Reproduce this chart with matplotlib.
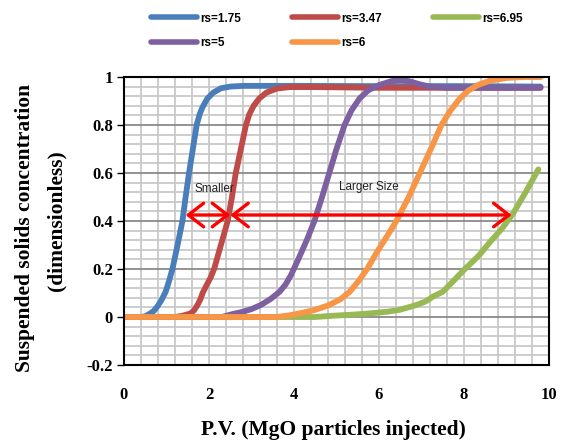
import numpy as np
import matplotlib
matplotlib.use("Agg")
import matplotlib.pyplot as plt
from matplotlib.ticker import MultipleLocator, FixedLocator

# readings from the picture (P.V., concentration)
blue_x = [0, 0.4, 0.5, 0.59, 0.7, 0.79, 0.88, 0.98, 1.06, 1.14, 1.26, 1.375, 1.45, 1.53,
          1.62, 1.71, 1.78, 1.85, 1.96, 2.1, 2.28, 2.5, 2.8, 4, 6, 8, 9.8]
blue_y = [0, 0, 0.003, 0.012, 0.025, 0.045, 0.07, 0.105, 0.15, 0.2, 0.3, 0.4, 0.5, 0.6,
          0.7, 0.8, 0.845, 0.875, 0.91, 0.935, 0.953, 0.96, 0.963, 0.963, 0.962, 0.962, 0.96]

red_x = [0, 1.2, 1.37, 1.57, 1.65, 1.73, 1.8, 1.85, 1.95, 2.04, 2.12, 2.28, 2.44, 2.54,
         2.63, 2.75, 2.87, 2.95, 3.05, 3.18, 3.35, 3.6, 3.9, 4.5, 6, 8, 9.8]
red_y = [0, 0, 0.005, 0.015, 0.028, 0.05, 0.075, 0.1, 0.135, 0.165, 0.2, 0.3, 0.4, 0.5,
         0.6, 0.7, 0.8, 0.845, 0.88, 0.91, 0.935, 0.952, 0.958, 0.958, 0.955, 0.955, 0.955]

green_x = [0, 4.5, 4.9, 5.4, 5.78, 6.2, 6.49, 6.88, 7.1, 7.27, 7.5, 7.75, 8.02, 8.2,
           8.37, 8.6, 8.9, 9.15, 9.45, 9.75]
green_y = [0, 0, 0.005, 0.01, 0.015, 0.022, 0.03, 0.05, 0.065, 0.085, 0.105, 0.15, 0.2, 0.23,
           0.26, 0.31, 0.37, 0.43, 0.52, 0.615]

purple_x = [0, 2.3, 2.55, 2.8, 3.0, 3.22, 3.45, 3.66, 3.8, 3.93, 4.1, 4.3, 4.48, 4.66,
            4.83, 5.0, 5.19, 5.35, 5.54, 5.75, 6.01, 6.3, 6.5, 6.7, 6.95, 7.19, 7.6, 8.5, 9.8]
purple_y = [0, 0, 0.012, 0.022, 0.033, 0.05, 0.075, 0.105, 0.135, 0.175, 0.24, 0.32, 0.4, 0.5,
            0.6, 0.7, 0.8, 0.86, 0.91, 0.945, 0.967, 0.983, 0.987, 0.983, 0.97, 0.96, 0.955, 0.955, 0.955]

orange_x = [0, 3.6, 3.9, 4.13, 4.5, 4.83, 5.1, 5.31, 5.52, 5.72, 5.95, 6.2, 6.41, 6.7,
            6.96, 7.22, 7.47, 7.68, 7.9, 8.1, 8.33, 8.6, 9.0, 9.4, 9.8]
orange_y = [0, 0, 0.007, 0.015, 0.03, 0.05, 0.075, 0.105, 0.15, 0.2, 0.27, 0.34, 0.4, 0.5,
            0.6, 0.7, 0.8, 0.86, 0.91, 0.943, 0.967, 0.984, 0.996, 1.0, 1.0]

series = [
    ("rs=1.75", blue_x, blue_y, "#4A7EBB"),
    ("rs=3.47", red_x, red_y, "#BE4B48"),
    ("rs=6.95", green_x, green_y, "#98B954"),
    ("rs=5", purple_x, purple_y, "#7D60A0"),
    ("rs=6", orange_x, orange_y, "#F79646"),
]

arrow_y = 0.425
smaller_arrow = (1.45, 2.5)
larger_arrow = (2.5, 9.12)

xticks = [0, 2, 4, 6, 8, 10]
yticks = [-0.2, 0, 0.2, 0.4, 0.6, 0.8, 1]
ytick_labels = ["-0.2", "0", "0.2", "0.4", "0.6", "0.8", "1"]

fig = plt.figure(figsize=(5.61, 4.44), dpi=100)
ax = fig.add_axes([124 / 561, 79 / 444, 425 / 561, 288 / 444])

ax.set_xlim(0, 10)
ax.set_ylim(-0.2, 1.0)

# grid like excel: minor = major/5
ax.xaxis.set_major_locator(FixedLocator(xticks))
ax.xaxis.set_minor_locator(MultipleLocator(0.4))
ax.yaxis.set_major_locator(FixedLocator(yticks))
ax.yaxis.set_minor_locator(MultipleLocator(0.04))
ax.grid(which="minor", color="#c9c9c9", lw=1.3)
ax.grid(which="major", axis="y", color="#8a8a8a", lw=1.3)
ax.grid(which="major", axis="x", color="#c9c9c9", lw=1.3)
ax.set_axisbelow(True)

handles = {}
for name, xs, ys, col in series:
    h, = ax.plot(xs, ys, color=col, lw=4.2, solid_capstyle="round",
                 solid_joinstyle="round", label=name)
    handles[name] = h

# red arrows
for a, b in [smaller_arrow, larger_arrow]:
    ax.annotate("", xy=(b, arrow_y), xytext=(a, arrow_y),
                arrowprops=dict(arrowstyle="<->,head_length=1.1,head_width=0.85",
                                color="#ff0000", lw=2.4, shrinkA=0, shrinkB=0,
                                mutation_scale=10))

ax.text(1.65, 0.535, "Smaller", fontsize=8.5, family="Liberation Sans",
        va="center", ha="left", color="#222222")
ax.text(5.05, 0.54, "Larger Size", fontsize=8.5, family="Liberation Sans",
        va="center", ha="left", color="#222222")

for sp in ax.spines.values():
    sp.set_color("black")
    sp.set_linewidth(1.5)

tick_font = dict(family="Liberation Serif", weight="bold", size=12)
ax.set_xticks(xticks)
ax.set_xticklabels([str(t) for t in xticks], **tick_font)
ax.set_yticks(yticks)
ax.set_yticklabels(ytick_labels, **tick_font)
ax.tick_params(axis="x", which="both", length=0, pad=16)
ax.tick_params(axis="y", which="major", length=5, width=1, pad=3)
ax.tick_params(axis="y", which="minor", length=0)

label_font = dict(family="Liberation Serif", weight="bold", size=15.5)
fig.text(25 / 561, 1 - 228 / 444, "Suspended solids concentration",
         rotation=90, ha="center", va="center", **label_font)
fig.text(56 / 561, 1 - 221 / 444, "(dimensionless)",
         rotation=90, ha="center", va="center", **label_font)
fig.text(333 / 561, 1 - 430 / 444, "P.V. (MgO particles injected)",
         ha="center", va="center", **label_font)

order = ["rs=1.75", "rs=5", "rs=3.47", "rs=6", "rs=6.95"]
leg = fig.legend([handles[k] for k in order], order, ncol=3, loc="upper left",
                 bbox_to_anchor=(140 / 561, 1 - 2 / 444), frameon=False,
                 prop=dict(family="Liberation Sans", weight="bold", size=8.5),
                 handlelength=3.9, handletextpad=0.3, columnspacing=4.3,
                 labelspacing=1.05)
for line in leg.get_lines():
    line.set_linewidth(4)
    line.set_solid_capstyle("round")

fig.savefig("out.png", dpi=100)
